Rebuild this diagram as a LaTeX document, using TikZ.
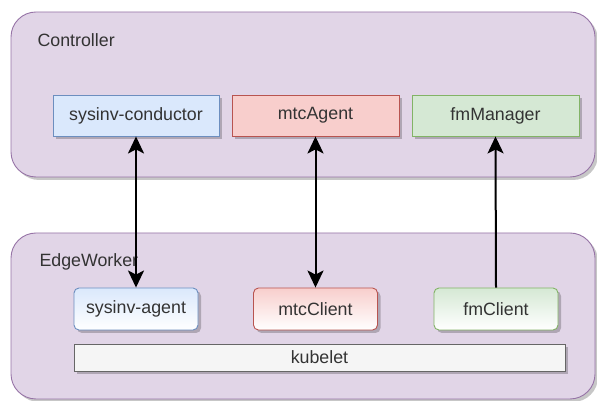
\documentclass[tikz,border=0pt]{standalone}
\usepackage{fontspec}
\setmainfont{Liberation Sans}
\usetikzlibrary{shadows,arrows.meta}
\definecolor{grpfill}{HTML}{E1D5E7}
\definecolor{grpline}{HTML}{9673A6}
\definecolor{bluefill}{HTML}{DAE8FC}
\definecolor{blueline}{HTML}{6C8EBF}
\definecolor{redfill}{HTML}{F8CECC}
\definecolor{redline}{HTML}{B85450}
\definecolor{greenfill}{HTML}{D5E8D4}
\definecolor{greenline}{HTML}{82B366}
\definecolor{greyfill}{HTML}{F5F5F5}
\definecolor{greyline}{HTML}{666666}
\definecolor{txt}{HTML}{333333}
\tikzset{
  shade/.style={drop shadow={shadow xshift=3pt,shadow yshift=-3pt,fill=black,opacity=0.22}},
  group/.style={draw=grpline,fill=grpfill,line width=0.9pt,rounded corners=25pt,shade},
  lbl/.style={font=\fontsize{17.8}{20}\selectfont,text=txt},
  svc/.style={lbl,line width=0.9pt,shade,minimum height=41pt,inner sep=0pt},
  cli/.style={lbl,line width=0.9pt,shade,minimum width=124pt,minimum height=42pt,rounded corners=5pt,inner sep=0pt},
  link/.style={line width=2pt,black,{Stealth[length=17pt,width=16pt,inset=4pt]}-{Stealth[length=17pt,width=16pt,inset=4pt]}},
  uplink/.style={line width=2pt,black,-{Stealth[length=17pt,width=16pt,inset=4pt]}}
}
\begin{document}
\begin{tikzpicture}[x=1pt,y=1pt]
\useasboundingbox (0,0) rectangle (597,401);
% node groups
\draw[group] (11,224) rectangle (595,389);
\draw[group] (11,2) rectangle (595,168);
\node[lbl,anchor=west] (ctl) at (34,361) {Controller};
\node[lbl,anchor=west] (edge) at (36,139) {EdgeWorker};
% controller services
\node[svc,draw=blueline,fill=bluefill,minimum width=166pt] (cond) at (136,285.5) {sysinv-conductor};
\node[svc,draw=redline,fill=redfill,minimum width=167pt] (mtca) at (315.5,285.5) {mtcAgent};
\node[svc,draw=greenline,fill=greenfill,minimum width=167pt] (fmm) at (495.5,285.5) {fmManager};
% worker clients
\node[cli,draw=blueline,top color=bluefill,bottom color=white] (sa) at (136,92) {sysinv-agent};
\node[cli,draw=redline,top color=redfill,bottom color=white] (mtcc) at (315.5,92) {mtcClient};
\node[cli,draw=greenline,top color=greenfill,bottom color=white] (fmc) at (496,92) {fmClient};
\node[lbl,draw=greyline,fill=greyfill,line width=0.9pt,shade,minimum width=491pt,minimum height=27pt,inner sep=0pt] (kub) at (319.5,43.5) {kubelet};
% connectors
\draw[link] (cond.south) -- (sa.north);
\draw[link] (mtca.south) -- (mtcc.north);
\draw[uplink] (fmc.north) -- (fmm.south);
\end{tikzpicture}
\end{document}
